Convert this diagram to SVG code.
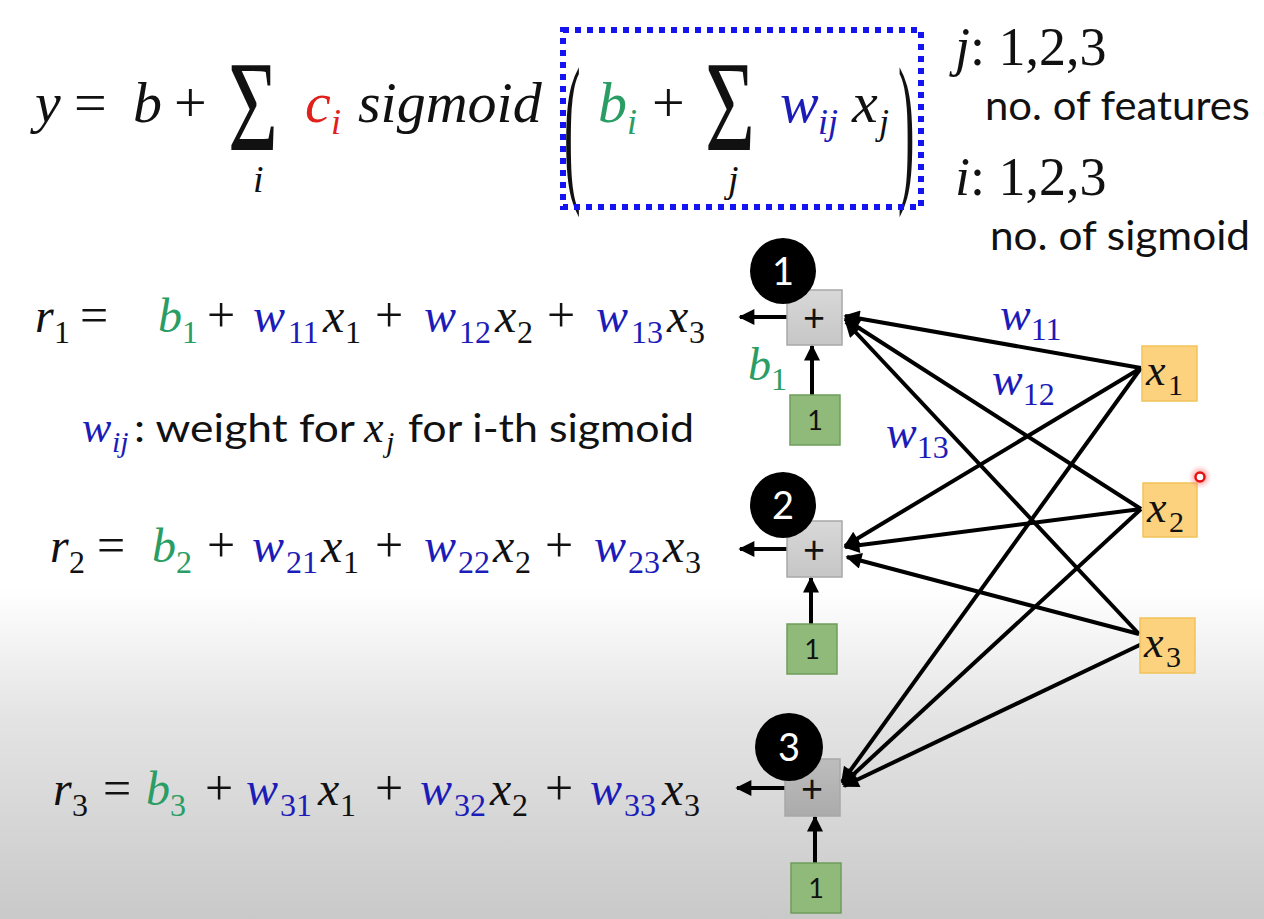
<svg xmlns="http://www.w3.org/2000/svg" width="1264" height="919" viewBox="0 0 1264 919">
<defs>
<linearGradient id="bg" x1="0" y1="0" x2="0" y2="1">
<stop offset="0" stop-color="#ffffff"/>
<stop offset="0.64" stop-color="#ffffff"/>
<stop offset="0.78" stop-color="#e4e4e4"/>
<stop offset="1" stop-color="#c9c9c9"/>
</linearGradient>
<linearGradient id="gplus" x1="0" y1="0" x2="0" y2="1">
<stop offset="0" stop-color="#d8d8d8"/>
<stop offset="1" stop-color="#c6c6c6"/>
</linearGradient>
<linearGradient id="gplus3" x1="0" y1="0" x2="0" y2="1">
<stop offset="0" stop-color="#bdbdbd"/>
<stop offset="1" stop-color="#ababab"/>
</linearGradient>
<radialGradient id="glow">
<stop offset="0.3" stop-color="#ff6060" stop-opacity="0.6"/>
<stop offset="1" stop-color="#ff9090" stop-opacity="0"/>
</radialGradient>
<marker id="ah" viewBox="0 0 10 10" refX="9" refY="5" markerWidth="18" markerHeight="16" markerUnits="userSpaceOnUse" orient="auto">
<path d="M0,0 L10,5 L0,10 z" fill="#000"/>
</marker>
<style>
.m{font-family:"Liberation Serif","DejaVu Serif",serif;font-style:italic;fill:#111}
.u{font-style:normal}
.s{font-family:"Lato","Liberation Sans",sans-serif;fill:#111}
.bl{fill:#1c1cb8}
.gr{fill:#2a9d64}
.rd{fill:#e0201b}
.plus{stroke:#a8a8a8;stroke-width:1.5}
.one{fill:#8fba79;stroke:#6f9d5c;stroke-width:1.5}
.xb{fill:#fcd27e;stroke:#f2c25a;stroke-width:1.5}
.cn{stroke:#000;stroke-width:4;fill:none;marker-end:url(#ah)}
.eq{font-size:48px}
.sb{font-size:32px;font-style:normal}
.op{font-size:50px;font-style:normal}
</style>
</defs>
<rect width="1264" height="919" fill="url(#bg)"/>

<!-- top formula -->
<g id="formula">
<text class="m" font-size="58"><tspan x="35" y="122">y</tspan><tspan class="u" x="74" y="122">=</tspan><tspan x="133" y="122">b</tspan><tspan class="u" x="174" y="122">+</tspan></text>
<text class="m u" font-size="130" transform="translate(228,150) scale(0.66,1)">Σ</text>
<text class="m" font-size="38" x="253" y="192">i</text>
<text class="m rd" font-size="58" x="305" y="122">c</text>
<text class="m rd" font-size="36" x="331" y="134">i</text>
<text class="m" font-size="58" x="358" y="122">sigmoid</text>
<text class="m u" font-size="165" transform="translate(564,182) scale(0.3,1)">(</text>
<text class="m gr" font-size="58" x="598" y="122">b</text>
<text class="m gr" font-size="36" x="627" y="134">i</text>
<text class="m u" font-size="58" x="652" y="122">+</text>
<text class="m u" font-size="130" transform="translate(705,150) scale(0.66,1)">Σ</text>
<text class="m" font-size="38" x="728" y="192">j</text>
<text class="m bl" font-size="58" x="780" y="122">w</text>
<text class="m bl" font-size="36" x="818" y="134">ij</text>
<text class="m" font-size="58" x="852" y="122">x</text>
<text class="m" font-size="36" x="879" y="134">j</text>
<text class="m u" font-size="165" transform="translate(898,182) scale(0.3,1)">)</text>
<rect x="563" y="30" width="358" height="177" fill="none" stroke="#1414f0" stroke-width="6" stroke-dasharray="6 6"/>
<text class="m" font-size="54" x="955" y="65">j<tspan class="u">: 1,2,3</tspan></text>
<text class="s" font-size="40" x="985" y="120" textLength="265" lengthAdjust="spacingAndGlyphs">no. of features</text>
<text class="m" font-size="54" x="955" y="195">i<tspan class="u">: 1,2,3</tspan></text>
<text class="s" font-size="40" x="990" y="250" textLength="260" lengthAdjust="spacingAndGlyphs">no. of sigmoid</text>
</g>

<!-- equations -->
<g id="eq1">
<text class="m eq"><tspan x="35" y="332">r</tspan><tspan class="sb" x="54" y="343">1</tspan><tspan class="op" x="80" y="332">=</tspan><tspan class="gr" x="158" y="332">b</tspan><tspan class="gr sb" x="182" y="343">1</tspan><tspan class="op" x="207" y="332">+</tspan><tspan class="bl" x="253" y="332">w</tspan><tspan class="bl sb" x="288" y="343">11</tspan><tspan x="323" y="332">x</tspan><tspan class="sb" x="345" y="343">1</tspan><tspan class="op" x="375" y="332">+</tspan><tspan class="bl" x="424" y="332">w</tspan><tspan class="bl sb" x="459" y="343">12</tspan><tspan x="495" y="332">x</tspan><tspan class="sb" x="517" y="343">2</tspan><tspan class="op" x="547" y="332">+</tspan><tspan class="bl" x="596" y="332">w</tspan><tspan class="bl sb" x="631" y="343">13</tspan><tspan x="667" y="332">x</tspan><tspan class="sb" x="689" y="343">3</tspan></text>
</g>
<g id="wdef">
<text class="m bl" font-size="44" x="82" y="442">w</text>
<text class="m bl u" font-size="30" x="112" y="452" style="font-style:italic">ij</text>
<text class="s" font-size="39" x="134" y="442" textLength="221" lengthAdjust="spacingAndGlyphs">: weight for</text>
<text class="m" font-size="44" x="364" y="442">x</text>
<text class="m" font-size="30" x="386" y="452">j</text>
<text class="s" font-size="39" x="408" y="442" textLength="286" lengthAdjust="spacingAndGlyphs">for i-th sigmoid</text>
</g>
<g id="eq2">
<text class="m eq"><tspan x="50" y="562">r</tspan><tspan class="sb" x="69" y="573">2</tspan><tspan class="op" x="97" y="562">=</tspan><tspan class="gr" x="152" y="562">b</tspan><tspan class="gr sb" x="176" y="573">2</tspan><tspan class="op" x="207" y="562">+</tspan><tspan class="bl" x="252" y="562">w</tspan><tspan class="bl sb" x="286" y="573">21</tspan><tspan x="321" y="562">x</tspan><tspan class="sb" x="343" y="573">1</tspan><tspan class="op" x="375" y="562">+</tspan><tspan class="bl" x="424" y="562">w</tspan><tspan class="bl sb" x="458" y="573">22</tspan><tspan x="493" y="562">x</tspan><tspan class="sb" x="515" y="573">2</tspan><tspan class="op" x="545" y="562">+</tspan><tspan class="bl" x="594" y="562">w</tspan><tspan class="bl sb" x="628" y="573">23</tspan><tspan x="663" y="562">x</tspan><tspan class="sb" x="685" y="573">3</tspan></text>
</g>
<g id="eq3">
<text class="m eq"><tspan x="53" y="805">r</tspan><tspan class="sb" x="72" y="816">3</tspan><tspan class="op" x="103" y="805">=</tspan><tspan class="gr" x="146" y="805">b</tspan><tspan class="gr sb" x="170" y="816">3</tspan><tspan class="op" x="205" y="805">+</tspan><tspan class="bl" x="246" y="805">w</tspan><tspan class="bl sb" x="280" y="816">31</tspan><tspan x="318" y="805">x</tspan><tspan class="sb" x="340" y="816">1</tspan><tspan class="op" x="375" y="805">+</tspan><tspan class="bl" x="420" y="805">w</tspan><tspan class="bl sb" x="454" y="816">32</tspan><tspan x="490" y="805">x</tspan><tspan class="sb" x="512" y="816">2</tspan><tspan class="op" x="545" y="805">+</tspan><tspan class="bl" x="590" y="805">w</tspan><tspan class="bl sb" x="624" y="816">33</tspan><tspan x="662" y="805">x</tspan><tspan class="sb" x="684" y="816">3</tspan></text>
</g>

<!-- connectors -->
<g id="connectors">
<line class="cn" x1="1141" y1="368" x2="845" y2="316"/>
<line class="cn" x1="1141" y1="509" x2="845" y2="319"/>
<line class="cn" x1="1139" y1="634" x2="846" y2="322"/>
<line class="cn" x1="1141" y1="368" x2="845" y2="546"/>
<line class="cn" x1="1141" y1="509" x2="845" y2="547"/>
<line class="cn" x1="1139" y1="634" x2="847" y2="557"/>
<line class="cn" x1="1141" y1="368" x2="842" y2="782"/>
<line class="cn" x1="1141" y1="509" x2="843" y2="784"/>
<line class="cn" x1="1146" y1="642" x2="844" y2="786"/>
<line class="cn" x1="787" y1="317" x2="740" y2="317"/>
<line class="cn" x1="787" y1="549" x2="740" y2="549"/>
<line class="cn" x1="785" y1="788" x2="737" y2="788"/>
<line class="cn" x1="812" y1="395" x2="812" y2="346"/>
<line class="cn" x1="811" y1="624" x2="811" y2="578"/>
<line class="cn" x1="815" y1="863" x2="815" y2="817"/>
</g>

<!-- sum nodes -->
<g id="sum1">
<rect class="plus" x="787" y="290" width="55" height="55" fill="url(#gplus)"/>
<text class="s" font-size="38" x="814" y="331" text-anchor="middle">+</text>
</g>
<g id="sum2">
<rect class="plus" x="787" y="521" width="55" height="56" fill="url(#gplus)"/>
<text class="s" font-size="38" x="814" y="563" text-anchor="middle">+</text>
</g>
<g id="sum3">
<rect class="plus" x="785" y="759" width="55" height="57" fill="url(#gplus3)"/>
<text class="s" font-size="38" x="812" y="802" text-anchor="middle">+</text>
</g>

<g id="badge1"><circle cx="783" cy="271" r="33" fill="#000"/><text class="s" font-size="38" x="783" y="285" text-anchor="middle" style="fill:#fff">1</text></g>
<g id="badge2"><circle cx="783" cy="505" r="33" fill="#000"/><text class="s" font-size="38" x="783" y="519" text-anchor="middle" style="fill:#fff">2</text></g>
<g id="badge3"><circle cx="789" cy="747" r="34" fill="#000"/><text class="s" font-size="38" x="789" y="761" text-anchor="middle" style="fill:#fff">3</text></g>

<!-- bias nodes -->
<g id="one1"><rect class="one" x="790" y="395" width="50" height="50"/><text class="s" font-size="27" x="815" y="430" text-anchor="middle">1</text></g>
<g id="one2"><rect class="one" x="787" y="624" width="50" height="50"/><text class="s" font-size="27" x="812" y="659" text-anchor="middle">1</text></g>
<g id="one3"><rect class="one" x="791" y="863" width="50" height="50"/><text class="s" font-size="27" x="816" y="898" text-anchor="middle">1</text></g>

<!-- inputs -->
<g id="x1"><rect class="xb" x="1142" y="346" width="55" height="55"/><text class="m" font-size="44"><tspan x="1146" y="385">x</tspan><tspan class="u" font-size="30" x="1168" y="395">1</tspan></text></g>
<g id="x2"><rect class="xb" x="1143" y="483" width="54" height="54"/><text class="m" font-size="44"><tspan x="1147" y="522">x</tspan><tspan class="u" font-size="30" x="1169" y="532">2</tspan></text></g>
<g id="x3"><rect class="xb" x="1140" y="618" width="55" height="55"/><text class="m" font-size="44"><tspan x="1144" y="657">x</tspan><tspan class="u" font-size="30" x="1166" y="667">3</tspan></text></g>

<!-- weight labels -->
<g id="labels">
<text class="m bl" font-size="46" x="1000" y="330">w<tspan class="u" font-size="32" dy="10">11</tspan></text>
<text class="m bl" font-size="46" x="992" y="395">w<tspan class="u" font-size="32" dy="10">12</tspan></text>
<text class="m bl" font-size="46" x="886" y="448">w<tspan class="u" font-size="32" dy="10">13</tspan></text>
<text class="m gr" font-size="46" x="748" y="380">b<tspan class="u" font-size="32" dy="10">1</tspan></text>
</g>

<g id="cursor">
<circle cx="1200" cy="477" r="12" fill="url(#glow)"/>
<circle cx="1200" cy="477" r="4.5" fill="#fff" stroke="#e81010" stroke-width="2.5"/>
</g>
</svg>
